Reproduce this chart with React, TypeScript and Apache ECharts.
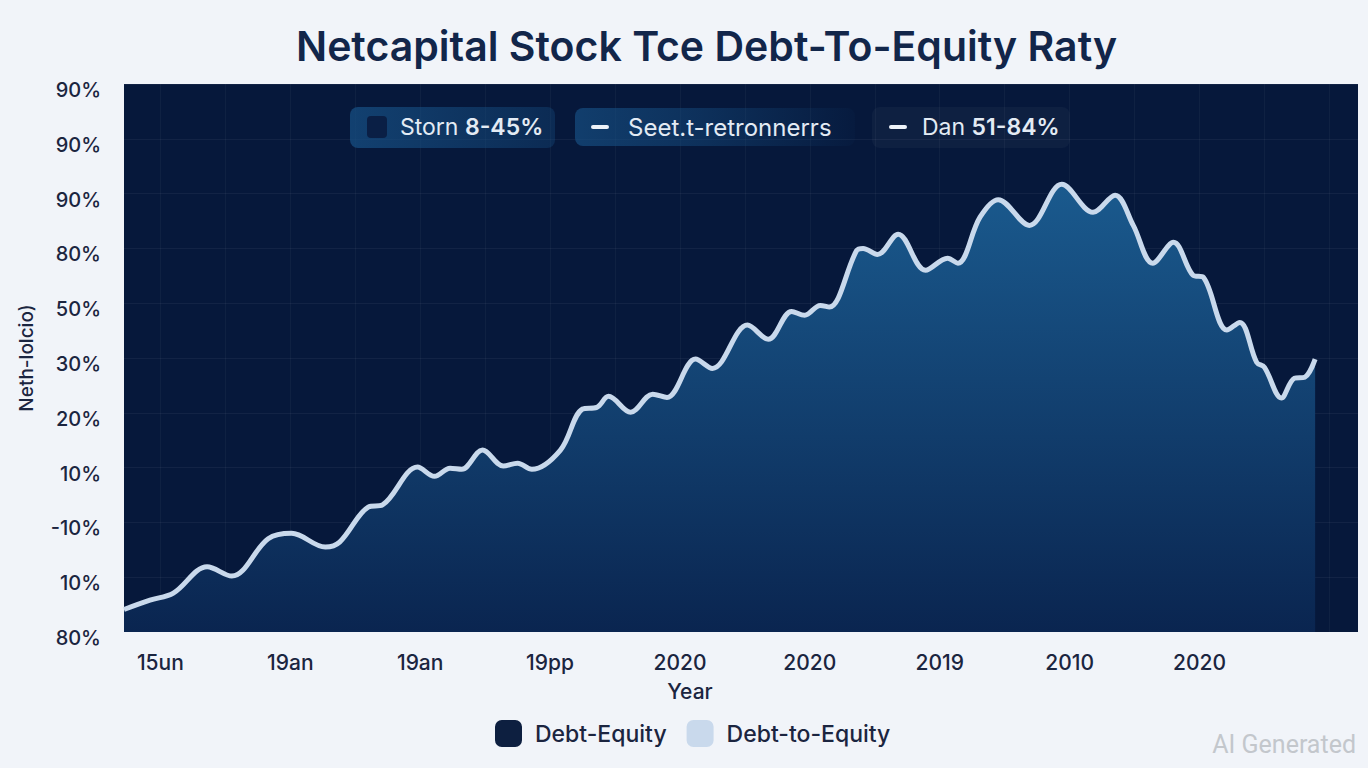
import React, { useEffect, useRef } from "react";
import * as echarts from "echarts";

const titleText = "Netcapital Stock Tce Debt-To-Equity Raty";
const yTickLabels = ["80%", "10%", "-10%", "10%", "20%", "30%", "50%", "80%", "90%", "90%", "90%"];
const xTickLabels = ["15un", "19an", "19an", "19pp", "2020", "2020", "2019", "2010", "2020"];
const xTickValues = [2.8, 12.8, 22.8, 32.8, 42.8, 52.8, 62.8, 72.8, 82.8];
const xGridValues = [2.8, 7.8, 12.8, 17.8, 22.8, 27.8, 32.8, 37.8, 42.8, 47.8, 52.8, 57.8, 62.8, 67.8, 72.8, 77.8, 82.8, 87.8, 92.8];
const xVals = [0, 2.0, 3.8, 6.4, 8.3, 11.1, 12.9, 15.5, 16.6, 18.8, 19.9, 22.6, 23.9, 25.1, 26.0, 27.6, 29.2, 30.3, 31.4, 33.6, 35.3, 36.4, 37.3, 39.0, 40.7, 41.8, 44.0, 45.3, 48.0, 49.6, 51.4, 52.4, 53.6, 54.3, 56.4, 56.9, 58.0, 59.6, 61.7, 63.4, 64.2, 65.9, 67.3, 69.7, 72.2, 74.6, 76.3, 77.7, 79.2, 80.8, 82.3, 83.1, 84.9, 85.9, 87.2, 87.8, 89.1, 90.1, 90.9, 91.7];
const ratio = [4.1, 5.8, 7.1, 11.9, 10.2, 17.0, 18.0, 15.5, 16.4, 22.8, 23.2, 30.1, 28.4, 29.9, 29.7, 33.2, 30.3, 30.8, 29.7, 33.2, 40.7, 41.0, 43.0, 40.1, 43.4, 42.8, 49.8, 48.1, 56.0, 53.4, 58.5, 57.8, 59.6, 59.3, 69.6, 70.0, 68.9, 72.6, 66.0, 68.2, 67.3, 75.7, 78.9, 74.2, 81.7, 76.6, 79.7, 74.2, 67.3, 71.1, 65.1, 64.7, 55.1, 56.5, 49.2, 48.3, 42.7, 46.3, 46.5, 49.8];
const seriesNames = ["Debt-Equity", "Debt-to-Equity"];
const innerLegend = [
  { name: "Storn ", value: "8-45%" },
  { name: "Seet.t-retronnerrs", value: "" },
  { name: "Dan ", value: "51-84%" },
];
const yAxisName = "Neth-lolcio)";
const xAxisName = "Year";
const watermark = "AI Generated";

export default function App() {
  const ref = useRef<HTMLDivElement>(null);
  useEffect(() => {
    if (!ref.current) return;
    const chart = echarts.init(ref.current, undefined, { renderer: "svg" });
    const font = "Inter, 'Noto Sans', sans-serif";
    const textCol = "#e3ebf4";
    const darkText = "#1b2540";
    const option: any = {
      animation: false,
      backgroundColor: "#f1f4f9",
      title: {
        text: titleText,
        left: 291,
        top: 20,
        textStyle: { fontFamily: font, fontSize: 41, fontWeight: 600, color: "#12264a" },
      },
      grid: { left: 124, top: 84, right: 10, bottom: 136, backgroundColor: "#06183b", show: true, borderWidth: 0 },
      legend: {
        data: seriesNames,
        left: 495,
        top: 720,
        padding: 0,
        icon: "roundRect",
        itemWidth: 27,
        itemHeight: 27,
        itemGap: 20,
        textStyle: { fontFamily: font, fontSize: 23, fontWeight: 500, color: darkText, padding: [0, 0, 0, 8] },
      },
      xAxis: {
        type: "value",
        min: 0,
        max: 95,
        name: xAxisName,
        nameLocation: "middle",
        nameGap: 49,
        nameTextStyle: { fontFamily: font, fontSize: 21, fontWeight: 500, color: darkText, padding: [0, 102, 0, 0] },
        axisLine: { show: false },
        axisTick: { show: false, customValues: xGridValues },
        axisLabel: {
          customValues: xTickValues,
          formatter: (v: number) => {
            const i = xTickValues.findIndex((t) => Math.abs(t - v) < 0.01);
            return i >= 0 ? xTickLabels[i] : "";
          },
          margin: 20,
          fontFamily: font,
          fontSize: 21,
          fontWeight: 500,
          color: darkText,
        },
        splitLine: { show: true, lineStyle: { color: "rgba(255,255,255,0.04)", width: 1 } },
      },
      yAxis: {
        type: "value",
        min: 0,
        max: 100,
        interval: 10,
        name: yAxisName,
        nameLocation: "middle",
        nameGap: 88,
        nameRotate: 90,
        nameTextStyle: { fontFamily: font, fontSize: 19, fontWeight: 500, color: darkText },
        axisLine: { show: false },
        axisTick: { show: false },
        axisLabel: {
          formatter: (v: number) => yTickLabels[Math.round(v / 10)] ?? "",
          margin: 23,
          verticalAlign: "top",
          lineHeight: 12,
          fontFamily: font,
          fontSize: 20,
          fontWeight: 500,
          color: darkText,
        },
        splitLine: { show: true, lineStyle: { color: "rgba(255,255,255,0.05)", width: 1 } },
      },
      series: [
        {
          name: seriesNames[0],
          type: "line",
          data: xVals.map((x, i) => [x, ratio[i]]),
          smooth: 0.35,
          symbol: "none",
          itemStyle: { color: "#0d1f40" },
          lineStyle: { color: "#c9d9ec", width: 5 },
          areaStyle: {
            color: new echarts.graphic.LinearGradient(0, 0, 0, 1, [
              { offset: 0, color: "#1a5a8e" },
              { offset: 1, color: "#0a2550" },
            ]),
            opacity: 1,
          },
          z: 3,
        },
        {
          name: seriesNames[1],
          type: "line",
          data: [],
          symbol: "none",
          itemStyle: { color: "#c9d9ec" },
          lineStyle: { color: "#c9d9ec" },
        },
      ],
      graphic: [
        {
          type: "rect",
          shape: { x: 350, y: 107, width: 205, height: 41, r: 8 },
          style: {
            fill: new echarts.graphic.LinearGradient(0, 0, 1, 0, [
              { offset: 0, color: "rgba(22,78,130,0.75)" },
              { offset: 1, color: "rgba(22,78,130,0.35)" },
            ]),
          },
          z: 10,
        },
        { type: "rect", shape: { x: 367, y: 116, width: 20, height: 22, r: 4 }, style: { fill: "#0a1f45" }, z: 11 },
        {
          type: "text",
          x: 400,
          y: 127,
          style: {
            text: `{n|${innerLegend[0].name}}{b|${innerLegend[0].value}}`,
            verticalAlign: "middle",
            rich: {
              n: { fontFamily: font, fontSize: 23, fill: textCol },
              b: { fontFamily: font, fontSize: 23, fontWeight: 600, fill: textCol },
            },
          },
          z: 11,
        },
        {
          type: "rect",
          shape: { x: 575, y: 108, width: 280, height: 38, r: 8 },
          style: {
            fill: new echarts.graphic.LinearGradient(0, 0, 1, 0, [
              { offset: 0, color: "rgba(22,78,130,0.7)" },
              { offset: 0.45, color: "rgba(22,78,130,0.45)" },
              { offset: 1, color: "rgba(22,78,130,0.05)" },
            ]),
          },
          z: 10,
        },
        { type: "rect", shape: { x: 591, y: 125, width: 18, height: 4, r: 2 }, style: { fill: "#eef3f9" }, z: 11 },
        {
          type: "text",
          x: 628,
          y: 127,
          style: { text: innerLegend[1].name, verticalAlign: "middle", fontFamily: font, fontSize: 24, fill: textCol },
          z: 11,
        },
        {
          type: "rect",
          shape: { x: 872, y: 107, width: 198, height: 41, r: 8 },
          style: { fill: "rgba(255,255,255,0.035)" },
          z: 10,
        },
        { type: "rect", shape: { x: 889, y: 125, width: 18, height: 4, r: 2 }, style: { fill: "#eef3f9" }, z: 11 },
        {
          type: "text",
          x: 922,
          y: 127,
          style: {
            text: `{n|${innerLegend[2].name}}{b|${innerLegend[2].value}}`,
            verticalAlign: "middle",
            rich: {
              n: { fontFamily: font, fontSize: 23, fill: textCol },
              b: { fontFamily: font, fontSize: 23, fontWeight: 600, fill: textCol },
            },
          },
          z: 11,
        },
        {
          type: "text",
          right: 12,
          top: 732,
          style: { text: watermark, fontFamily: "Roboto, sans-serif", fontSize: 25, fill: "#c3c7cc" },
          z: 11,
        },
      ],
    };
    chart.setOption(option);
    return () => chart.dispose();
  }, []);
  return <div ref={ref} style={{ position: "fixed", left: 0, top: 0, width: 1368, height: 768 }} />;
}
